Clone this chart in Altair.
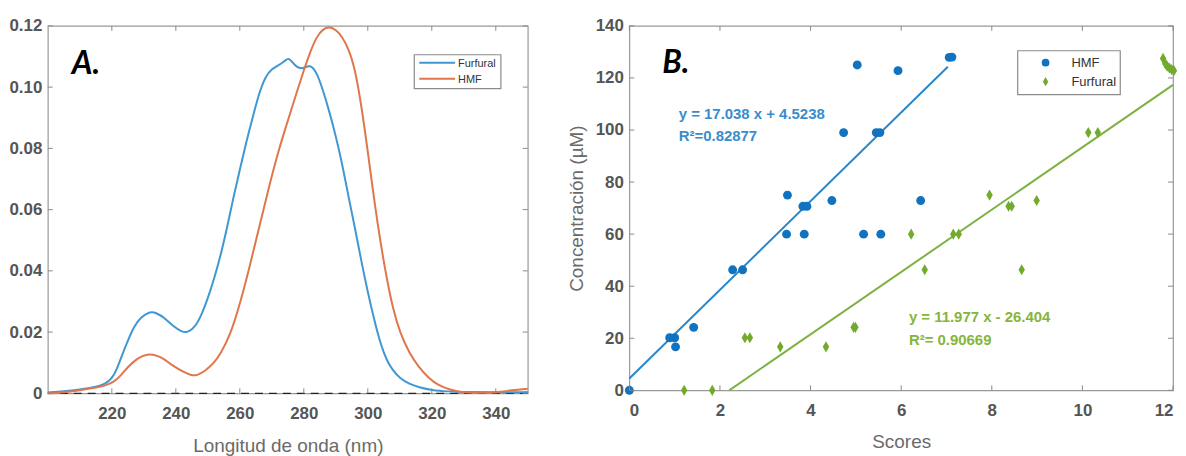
import altair as alt
import pandas as pd

# ---------------- Panel A: UV spectra ----------------
fur_nm = [200, 205, 210, 215, 218, 220.7, 223, 225, 227, 229, 232, 234, 236.3, 239, 242, 243.5,
          245, 246.5, 248, 250, 252, 254, 256, 258, 260, 262, 264, 266, 268, 270, 272, 274,
          275.3, 276.5, 277.7, 279.6, 281.9, 284, 286, 288, 290, 292, 294, 296, 298,
          300, 302, 304, 306, 308, 310, 313, 316, 320, 325, 330, 340, 350]
fur_abs = [0.0003, 0.0006, 0.0012, 0.002, 0.003, 0.0053, 0.012, 0.0172, 0.022, 0.0248, 0.0268,
           0.0262, 0.0248, 0.022, 0.0200, 0.0199, 0.0208, 0.0225, 0.0255, 0.031, 0.0375, 0.045,
           0.054, 0.064, 0.073, 0.082, 0.090, 0.098, 0.1035, 0.106, 0.107, 0.1085, 0.1097, 0.108,
           0.1066, 0.1058, 0.1075, 0.105, 0.099, 0.092, 0.084, 0.075, 0.064, 0.054, 0.043,
           0.033, 0.024, 0.016, 0.0105, 0.0072, 0.005, 0.003, 0.002, 0.001, 0.0006, 0.0004,
           0.0003, 0.0004]

hmf_nm = [200, 205, 210, 215, 218, 220.7, 223, 224.9, 228, 231.1, 234, 236.3, 239, 242.5, 245,
          246.6, 249, 251.8, 254, 257, 260, 263, 266, 269, 272, 275, 278, 280, 282, 284, 286, 288,
          290, 292, 294, 296, 298, 300, 302, 304, 306, 308, 310, 313, 316, 319, 322, 326, 330,
          335, 340, 345, 350]
hmf_abs = [0.0, 0.0003, 0.001, 0.0018, 0.0025, 0.0037, 0.006, 0.0085, 0.0115, 0.0129, 0.0124,
           0.0113, 0.009, 0.0069, 0.0058, 0.0058, 0.0072, 0.0097, 0.013, 0.019, 0.029, 0.041,
           0.054, 0.067, 0.079, 0.089, 0.099, 0.1055, 0.1115, 0.1165, 0.119, 0.1197, 0.1188,
           0.1165, 0.1125, 0.106, 0.094, 0.079, 0.063, 0.049, 0.037, 0.027, 0.020, 0.013, 0.0085,
           0.005, 0.0026, 0.001, 0.0003, 0.0001, 0.0003, 0.001, 0.0015]

a_xticks = [220, 240, 260, 280, 300, 320, 340]
a_yticks = [0, 0.02, 0.04, 0.06, 0.08, 0.10, 0.12]
a_series = ["Furfural", "HMF"]

# ---------------- Panel B: calibration ----------------
hmf_score = [0, 0.89, 1.0, 1.02, 1.42, 2.28, 2.5, 3.47, 3.49, 3.83, 3.92, 3.86, 4.47, 4.73, 5.03,
             5.17, 5.45, 5.53, 5.55, 5.93, 6.43, 7.06, 7.12]
hmf_conc = [0, 20.2, 20.2, 16.7, 24.2, 46.3, 46.3, 60, 75, 70.7, 70.7, 60, 72.9, 99, 125,
            60, 99, 99, 60, 122.8, 72.9, 127.9, 128]

fur_score = [1.21, 1.83, 2.55, 2.66, 3.33, 4.34, 4.95, 4.99, 6.22, 6.52, 7.15, 7.27, 7.95, 8.37,
             8.44, 8.66, 8.99, 10.13, 10.34, 11.78, 11.83, 11.87, 11.92, 11.97, 12.02]
fur_conc = [0, 0, 20.2, 20.2, 16.7, 16.7, 24.2, 24.2, 60, 46.3, 60, 60, 75, 70.7,
            70.7, 46.3, 72.9, 99, 99, 127.5, 125.5, 124.5, 123.8, 123.2, 122.8]

fit_series = ["HMF", "Furfural"]
fit_slope = [17.038, 11.977]
fit_intercept = [4.5238, -26.404]
fit_x_from = [0.0, 2.2046]
fit_x_to = [7.03, 12.0]

b_xticks = [0, 2, 4, 6, 8, 10, 12]
b_yticks = [0, 20, 40, 60, 80, 100, 120, 140]
b_series = ["HMF", "Furfural"]

# ---------------- styling ----------------
BLUE_A = "#3f97d3"
ORANGE_A = "#e0764b"
BLUE_B = "#1173bf"
BLUE_LINE = "#2a86c8"
GREEN_B = "#72aa2e"
GREEN_LINE = "#7cb241"
TICK_C = "#8a8a8a"
BOX_C = "#8c8c8c"
DIAMOND = "M0,-1.25L0.72,0L0,1.25L-0.72,0Z"
WA, HA = 482, 369
WB, HB = 546, 366

one = pd.DataFrame({"k": [0]})


def inner_ticks(xfield, yfield, xvals, yvals, W, H, L=5):
    tx = pd.DataFrame({xfield: xvals})
    ty = pd.DataFrame({yfield: yvals})
    rk = dict(color=TICK_C, strokeWidth=1)
    top = alt.Chart(tx).mark_rule(**rk).encode(
        x=alt.X(f"{xfield}:Q"), y=alt.value(0), y2=alt.value(L))
    bot = alt.Chart(tx).mark_rule(**rk).encode(
        x=alt.X(f"{xfield}:Q"), y=alt.value(H - L), y2=alt.value(H))
    lef = alt.Chart(ty).mark_rule(**rk).encode(
        y=alt.Y(f"{yfield}:Q"), x=alt.value(0), x2=alt.value(L))
    rig = alt.Chart(ty).mark_rule(**rk).encode(
        y=alt.Y(f"{yfield}:Q"), x=alt.value(W - L), x2=alt.value(W))
    return [top, bot, lef, rig]


def box(x0, x1, y0, y1):
    return alt.Chart(one).mark_rect(fill="white", stroke=BOX_C, strokeWidth=1.2).encode(
        x=alt.value(x0), x2=alt.value(x1), y=alt.value(y0), y2=alt.value(y1))


def label(text, x, y, size=11):
    return alt.Chart(pd.DataFrame({"t": [text]})).mark_text(
        font="Liberation Sans", fontSize=size, color="#333", align="left", baseline="middle"
    ).encode(text="t:N", x=alt.value(x), y=alt.value(y))


# ----- Panel A -----
dfA = pd.concat([
    pd.DataFrame({"nm": fur_nm, "abs": fur_abs, "serie": a_series[0]}),
    pd.DataFrame({"nm": hmf_nm, "abs": hmf_abs, "serie": a_series[1]}),
])

xA = alt.Scale(domain=[200, 350], nice=False, zero=False)
yA = alt.Scale(domain=[0, 0.12], nice=False)

zero_line = alt.Chart(pd.DataFrame({"abs": [0]})).mark_rule(
    color="#222", strokeDash=[8, 6], strokeWidth=1.2).encode(y=alt.Y("abs:Q", scale=yA))

linesA = alt.Chart(dfA).mark_line(strokeWidth=2, interpolate="basis").encode(
    x=alt.X("nm:Q", scale=xA, title="Longitud de onda (nm)",
            axis=alt.Axis(values=a_xticks, labelPadding=12, titlePadding=15)),
    y=alt.Y("abs:Q", scale=yA, title=None,
            axis=alt.Axis(values=a_yticks, labelPadding=6,
                          labelExpr="datum.value == 0 ? '0' : format(datum.value, '.2f')")),
    color=alt.Color("serie:N", scale=alt.Scale(domain=a_series, range=[BLUE_A, ORANGE_A]),
                    legend=None),
)

legA = [
    box(368, 455, 29, 63),
    alt.Chart(one).mark_rule(color=BLUE_A, strokeWidth=2).encode(
        x=alt.value(373), x2=alt.value(409), y=alt.value(37)),
    alt.Chart(one).mark_rule(color=ORANGE_A, strokeWidth=2).encode(
        x=alt.value(373), x2=alt.value(409), y=alt.value(53)),
    label(a_series[0], 412, 38),
    label(a_series[1], 412, 54),
]

labelA = alt.Chart(pd.DataFrame({"t": ["A."]})).mark_text(
    font="Lato", fontSize=32, fontWeight="bold", fontStyle="italic", align="left",
    baseline="alphabetic", color="black").encode(text="t:N", x=alt.value(24), y=alt.value(48))

panelA = alt.layer(zero_line, linesA, *inner_ticks("nm", "abs", a_xticks, a_yticks, WA, HA),
                   *legA, labelA).properties(width=WA, height=HA)

# ----- Panel B -----
dfB = pd.concat([
    pd.DataFrame({"score": hmf_score, "conc": hmf_conc, "muestra": b_series[0]}),
    pd.DataFrame({"score": fur_score, "conc": fur_conc, "muestra": b_series[1]}),
])

fit_rows = []
for s, m, b, x0, x1 in zip(fit_series, fit_slope, fit_intercept, fit_x_from, fit_x_to):
    for xv in (x0, x1):
        fit_rows.append({"score": xv, "conc": m * xv + b, "muestra": s})
dfFit = pd.DataFrame(fit_rows)

xB = alt.Scale(domain=[0, 12], nice=False)
yB = alt.Scale(domain=[0, 140], nice=False)

fitB = alt.Chart(dfFit).mark_line(strokeWidth=2).encode(
    x=alt.X("score:Q", scale=xB, title="Scores",
            axis=alt.Axis(values=b_xticks, labelPadding=12, titlePadding=14, labelFlush=True)),
    y=alt.Y("conc:Q", scale=yB, title="Concentración (µM)",
            axis=alt.Axis(values=b_yticks, labelPadding=6, titlePadding=9)),
    detail="muestra:N",
    stroke=alt.Stroke("muestra:N", scale=alt.Scale(domain=b_series, range=[BLUE_LINE, GREEN_LINE]),
                      legend=None),
)

pointsB = alt.Chart(dfB).mark_point(filled=True, opacity=1, size=80).encode(
    x=alt.X("score:Q", scale=xB),
    y=alt.Y("conc:Q", scale=yB),
    color=alt.Color("muestra:N", scale=alt.Scale(domain=b_series, range=[BLUE_B, GREEN_B]),
                    legend=None),
    shape=alt.Shape("muestra:N", scale=alt.Scale(domain=b_series, range=["circle", DIAMOND]),
                    legend=None),
)

legB = [
    box(390, 493, 25, 69),
    alt.Chart(one).mark_point(filled=True, opacity=1, size=60, shape="circle", color=BLUE_B).encode(
        x=alt.value(418), y=alt.value(37)),
    alt.Chart(one).mark_point(filled=True, opacity=1, size=55, shape=DIAMOND, color=GREEN_B).encode(
        x=alt.value(418), y=alt.value(56)),
    label(b_series[0], 444, 37, 13),
    label(b_series[1], 444, 56, 13),
]

txt_style = dict(font="Liberation Sans Narrow, Liberation Sans", fontSize=15, fontWeight="bold",
                 align="left", baseline="middle")
eqB = alt.Chart(pd.DataFrame({"t": ["y = 17.038 x + 4.5238"]})).mark_text(
    color="#3a8dcc", **txt_style).encode(text="t:N", x=alt.datum(1.09), y=alt.datum(106))
r2B = alt.Chart(pd.DataFrame({"t": ["R²=0.82877"]})).mark_text(
    color="#3a8dcc", **txt_style).encode(text="t:N", x=alt.datum(1.09), y=alt.datum(97.5))
eqF = alt.Chart(pd.DataFrame({"t": ["y = 11.977 x - 26.404"]})).mark_text(
    color="#86b53c", **txt_style).encode(text="t:N", x=alt.datum(6.17), y=alt.datum(28.2))
r2F = alt.Chart(pd.DataFrame({"t": ["R²= 0.90669"]})).mark_text(
    color="#86b53c", **txt_style).encode(text="t:N", x=alt.datum(6.17), y=alt.datum(19.3))

labelB = alt.Chart(pd.DataFrame({"t": ["B."]})).mark_text(
    font="Lato", fontSize=32, fontWeight="bold", fontStyle="italic", align="left",
    baseline="alphabetic", color="black").encode(text="t:N", x=alt.value(33), y=alt.value(47))

panelB = alt.layer(fitB, pointsB, *inner_ticks("score", "conc", b_xticks, b_yticks, WB, HB),
                   eqB, r2B, eqF, r2F, *legB, labelB).properties(width=WB, height=HB)

chart = alt.hconcat(panelA, panelB, spacing=34).resolve_scale(
    color="independent", shape="independent", stroke="independent", x="independent", y="independent"
).properties(
    padding={"left": 0, "top": 7, "right": 0, "bottom": 0}
).configure_axis(
    labelFont="Liberation Sans", labelFontSize=17, labelFontWeight="bold", labelColor="#555555",
    titleFont="Liberation Sans", titleFontSize=19, titleFontWeight="normal", titleColor="#6a6a6a",
    domain=False, ticks=False, grid=False,
).configure_view(stroke="#999999", strokeWidth=1.2)

chart.save("out.html", embed_options={"renderer": "svg", "actions": False})
